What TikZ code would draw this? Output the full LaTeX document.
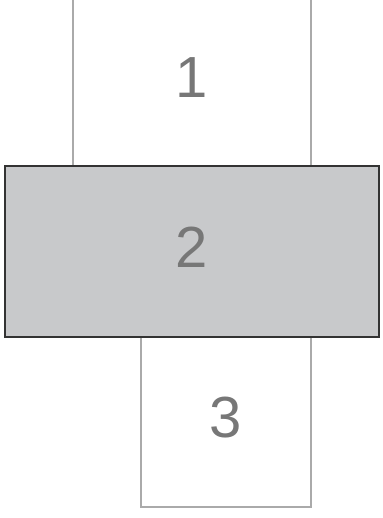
\documentclass[tikz,border=0pt]{standalone}
\usepackage{fontspec}
\setmainfont{Liberation Sans}
\definecolor{boxline}{HTML}{AAAAAA}
\definecolor{midfill}{HTML}{C8C9CB}
\definecolor{midline}{HTML}{333333}
\definecolor{numtext}{HTML}{777777}
\begin{document}
\begin{tikzpicture}[x=1pt,y=-1pt,
  lightbox/.style={draw=boxline,line width=1.2pt,inner sep=0pt},
  midbox/.style={draw=midline,fill=midfill,line width=1.5pt,inner sep=0pt},
  num/.style={text=numtext,font=\fontsize{58}{64}\selectfont,inner sep=0pt}]
\useasboundingbox (0,0) rectangle (382,518);
\clip (0,0) rectangle (382,518);
\node[lightbox,minimum width=238pt,minimum height=186pt] (b1) at (192,73) {};
\node[lightbox,minimum width=170pt,minimum height=170pt] (b3) at (226,422) {};
\node[midbox,minimum width=374pt,minimum height=171pt] (b2) at (192,251.5) {};
\node[num] (t1) at (191.5,77.5) {1};
\node[num] (t2) at (191.6,247.5) {2};
\node[num] (t3) at (226,417.5) {3};
\end{tikzpicture}
\end{document}
